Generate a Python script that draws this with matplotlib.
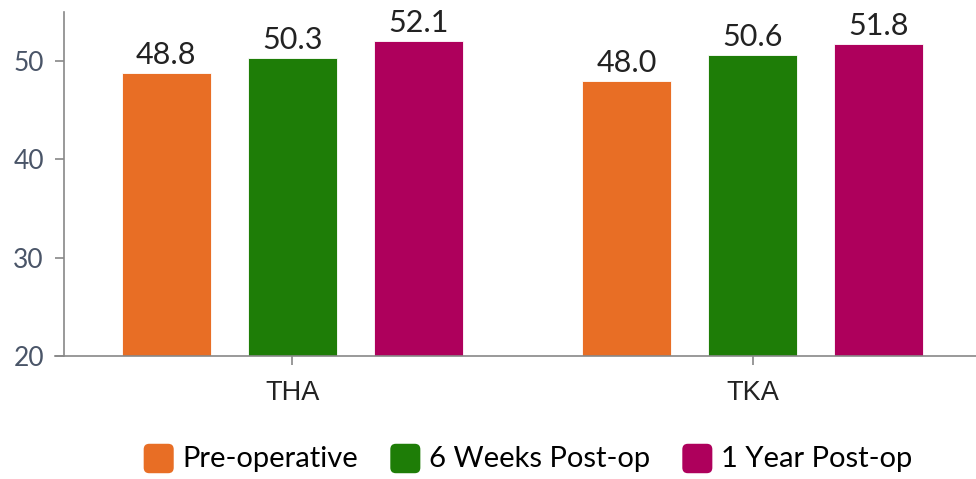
import numpy as np
import matplotlib
matplotlib.use("Agg")
import matplotlib.pyplot as plt
from matplotlib.patches import FancyBboxPatch, Patch
from matplotlib.legend_handler import HandlerPatch

plt.rcParams['font.family'] = ['Lato', 'DejaVu Sans']

groups = ["THA", "TKA"]
series = ["Pre-operative", "6 Weeks Post-op", "1 Year Post-op"]
values = [
    [48.8, 48.0],
    [50.3, 50.6],
    [52.1, 51.8],
]
colors = ["#E86E25", "#1E7D07", "#AE005C"]
y_ticks = [20, 30, 40, 50]

fig = plt.figure(figsize=(9.76, 4.79), dpi=100)
ax = fig.add_axes([0.0656, 0.2568, 0.9344, 0.718])

x = np.arange(len(groups))
width = 0.193
step = 0.274
for i, (name, vals, c) in enumerate(zip(series, values, colors)):
    bars = ax.bar(x + (i - 1) * step, np.array(vals) - 20, width, bottom=20,
                  color=c, label=name, edgecolor="white", linewidth=0.6)
    for b, v in zip(bars, vals):
        ax.text(b.get_x() + b.get_width() / 2, v + 0.4, f"{v:.1f}",
                ha="center", va="bottom", fontsize=22, color="#222222")

ax.set_ylim(20, 55)
ax.set_xlim(-0.496, 1.485)
ax.set_yticks(y_ticks)
ax.set_xticks(x)
ax.set_xticklabels(groups, family=["Liberation Sans", "DejaVu Sans"])
ax.tick_params(axis="y", labelsize=19, labelcolor="#4A5568", color="#888888",
               length=6.5, width=1.2, pad=8)
ax.tick_params(axis="x", labelsize=19.5, labelcolor="#222222", color="#888888",
               length=6.5, width=1.2, pad=11)
for s in ["top", "right"]:
    ax.spines[s].set_visible(False)
for s in ["left", "bottom"]:
    ax.spines[s].set_color("#888888")
    ax.spines[s].set_linewidth(1.2)
ax.spines["bottom"].set_bounds(-0.516, 1.485)


class RoundHandler(HandlerPatch):
    def create_artists(self, legend, orig_handle, xdescent, ydescent, width,
                       height, fontsize, trans):
        p = FancyBboxPatch((-xdescent, -ydescent - 2), width, height + 2,
                           boxstyle="round,pad=0,rounding_size=4",
                           facecolor=orig_handle.get_facecolor(),
                           edgecolor="none", transform=trans)
        return [p]


handles = [Patch(facecolor=c, label=n) for n, c in zip(series, colors)]
fig.legend(handles, series, loc="center", bbox_to_anchor=(0.541, 0.044),
           ncol=3, frameon=False, fontsize=21, handlelength=1.03,
           handleheight=1.03, handletextpad=0.3, columnspacing=1.1,
           handler_map={Patch: RoundHandler()})

fig.savefig("out.png", dpi=100)
